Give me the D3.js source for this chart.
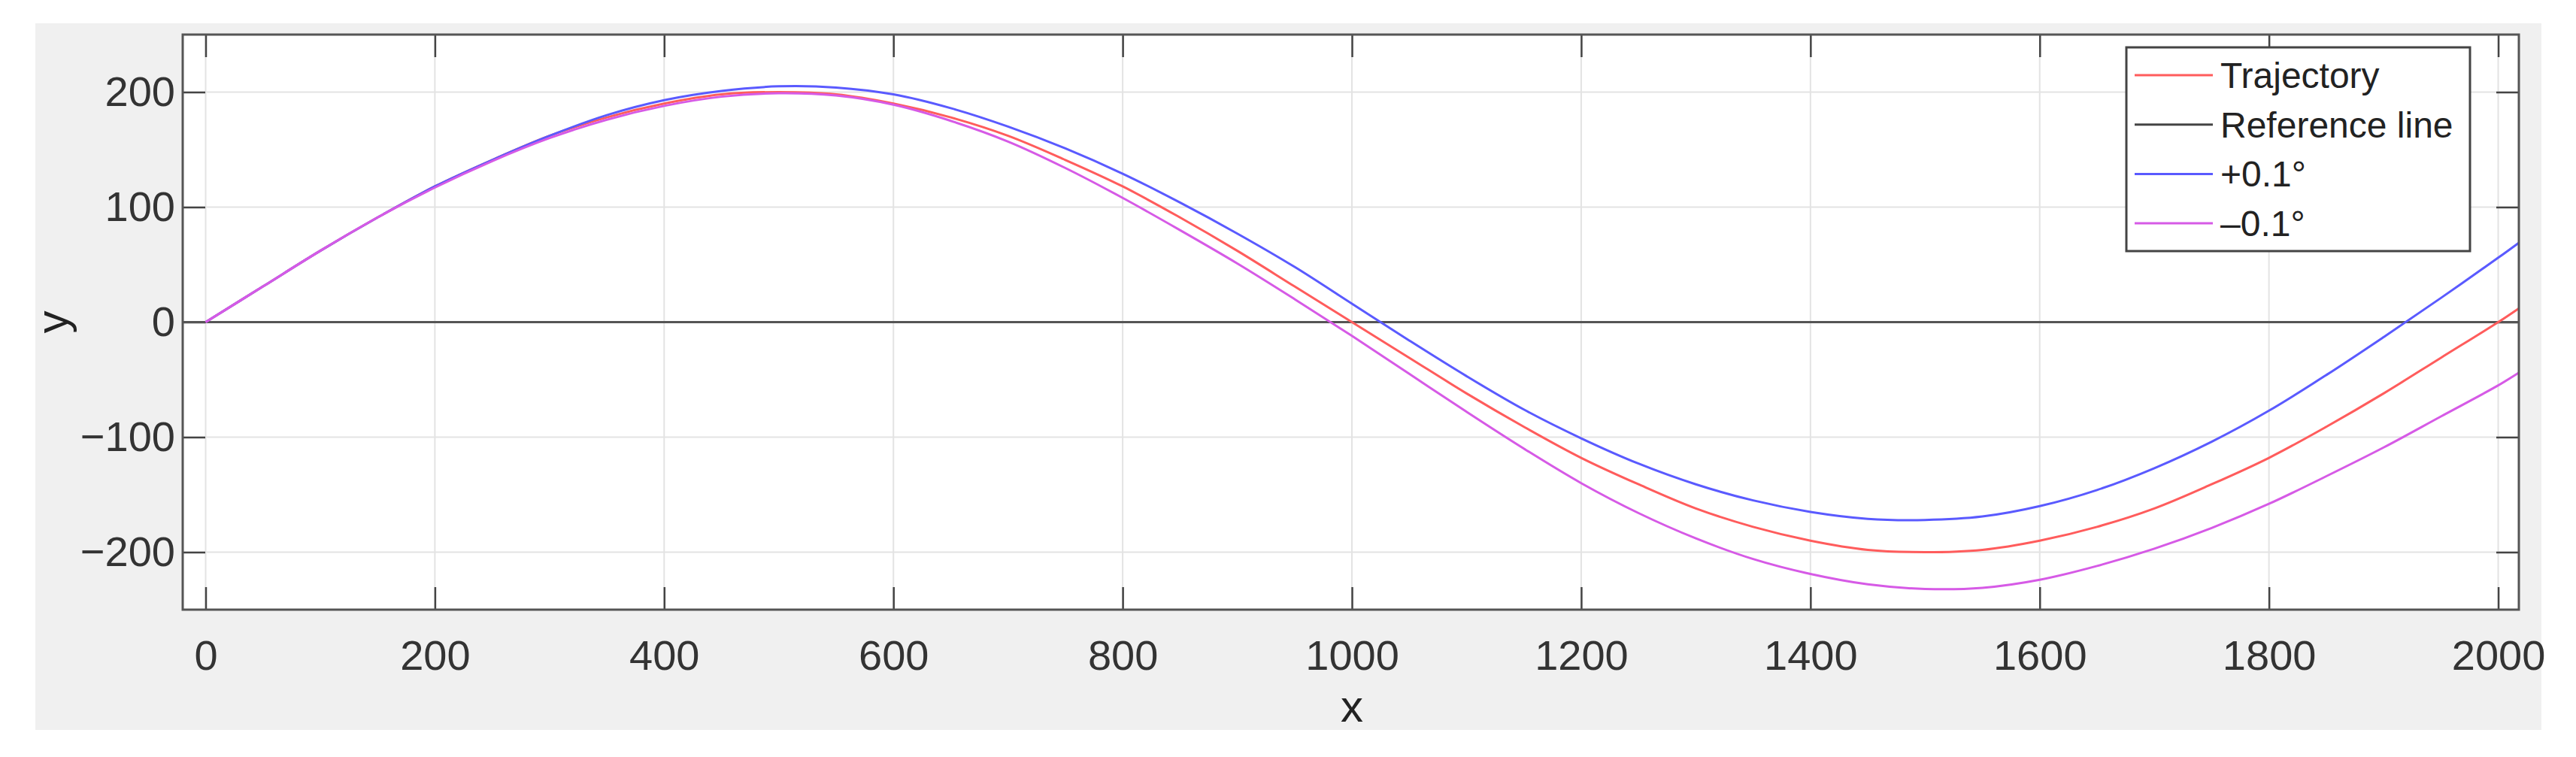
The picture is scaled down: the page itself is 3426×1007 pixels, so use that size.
<!DOCTYPE html><html><head><meta charset="utf-8">
<script src="https://cdn.jsdelivr.net/npm/d3@7"></script>
<style>body{margin:0;background:#fff}</style></head><body>
<svg id="c" width="3426" height="1007"></svg>
<script>
const xs =        [0,50,100,150,200,250,300,350,400,450,500,550,600,650,700,750,800,850,900,950,1000,1050,1100,1150,1200,1250,1300,1350,1400,1450,1500,1550,1600,1650,1700,1750,1800,1850,1900,1950,2000,2018];
const trajectory=[0,31,62,91,118,141,162,178,190,198,200,198,190,178,162,141,118,91,62,31,0,-31,-62,-91,-118,-141,-162,-178,-190,-198,-200,-198,-190,-178,-162,-141,-118,-91,-62,-31,0,12];
const plus01 =   [0,31,62,91,118,141,162,180,193,201,205,204,198,186,170,151,129,104,77,48,16,-16,-47,-76,-101,-123,-141,-155,-165,-171,-172,-169,-160,-146,-127,-104,-77,-46,-13,21,56,69];
const minus01 =  [0,31,62,91,117,140,160,176,188,196,199,197,189,175,157,134,108,80,51,20,-12,-45,-78,-110,-140,-166,-188,-206,-219,-228,-232,-231,-224,-212,-197,-179,-158,-134,-109,-82,-55,-44];
const xTicks=[0,200,400,600,800,1000,1200,1400,1600,1800,2000];
const yTicks=[-200,-100,0,100,200];
const legendLabels=["Trajectory","Reference line","+0.1°","\u20130.1°"];
const colors=["#ff5c5c","#444444","#5a5aff","#d65ae6"];

const svg=d3.select("#c");
const font="Arial, 'Liberation Sans', sans-serif";
svg.append("rect").attr("x",47).attr("y",31).attr("width",3333).attr("height",940).attr("fill","#f0f0f0");
const L=243,R=3350,T=46,B=811;
const x=d3.scaleLinear().domain([-20,2018]).range([L,R]);
const y=d3.scaleLinear().domain([-250,250]).range([B,T]);
svg.append("rect").attr("x",L).attr("y",T).attr("width",R-L).attr("height",B-T).attr("fill","#fff");
const g=svg.append("g");
xTicks.forEach(t=>g.append("line").attr("x1",x(t)).attr("x2",x(t)).attr("y1",T).attr("y2",B).attr("stroke","#e3e3e3").attr("stroke-width",2));
yTicks.forEach(t=>g.append("line").attr("x1",L).attr("x2",R).attr("y1",y(t)).attr("y2",y(t)).attr("stroke","#e3e3e3").attr("stroke-width",2));
const ax=d3.axisBottom(x).tickValues(xTicks).tickSize(-30).tickPadding(40).tickFormat(d3.format("d"));
const ay=d3.axisLeft(y).tickValues(yTicks).tickSize(-30).tickPadding(10).tickFormat(d=>d<0?"\u2212"+(-d):d);
function style(s){s.select(".domain").remove();s.selectAll("line").attr("stroke","#444").attr("stroke-width",2.5);
 s.selectAll("text").attr("font-family",font).attr("font-size",56).attr("fill","#333");}
svg.append("g").attr("transform",`translate(0,${B})`).call(ax).call(style);
svg.append("g").attr("transform",`translate(0,${T})`).call(d3.axisTop(x).tickValues(xTicks).tickSize(-30).tickFormat("")).call(style);
svg.append("g").attr("transform",`translate(${L},0)`).call(ay).call(style);
svg.append("g").attr("transform",`translate(${R},0)`).call(d3.axisRight(y).tickValues(yTicks).tickSize(-30).tickFormat("")).call(style);
const line=d3.line().x((d,i)=>x(xs[i])).y(d=>y(d)).curve(d3.curveCatmullRom);
svg.append("line").attr("x1",x(-20)).attr("x2",x(2018)).attr("y1",y(0)).attr("y2",y(0)).attr("stroke","#555").attr("stroke-width",3);
[[trajectory,colors[0]],[plus01,colors[2]],[minus01,colors[3]]].forEach(([d,c])=>
 svg.append("path").datum(d).attr("d",line).attr("fill","none").attr("stroke",c).attr("stroke-width",3));
svg.append("rect").attr("x",L).attr("y",T).attr("width",R-L).attr("height",B-T).attr("fill","none").attr("stroke","#555").attr("stroke-width",3);
svg.append("text").attr("x",x(1000)).attr("y",960).attr("text-anchor","middle").attr("font-family",font).attr("font-size",60).attr("fill","#222").text("x");
svg.append("text").attr("transform",`translate(90,${y(0)}) rotate(-90)`).attr("text-anchor","middle").attr("font-family",font).attr("font-size",60).attr("fill","#222").text("y");
const lg=svg.append("g");
lg.append("rect").attr("x",2828).attr("y",63).attr("width",457).attr("height",271).attr("fill","#fff").attr("stroke","#444").attr("stroke-width",3);
legendLabels.forEach((t,i)=>{const yy=100+i*65.7;
 lg.append("line").attr("x1",2839).attr("x2",2943).attr("y1",yy).attr("y2",yy).attr("stroke",colors[i]).attr("stroke-width",3);
 lg.append("text").attr("x",2953).attr("y",yy+17).attr("font-family",font).attr("font-size",48).attr("fill","#222").text(t);});
</script></body></html>
